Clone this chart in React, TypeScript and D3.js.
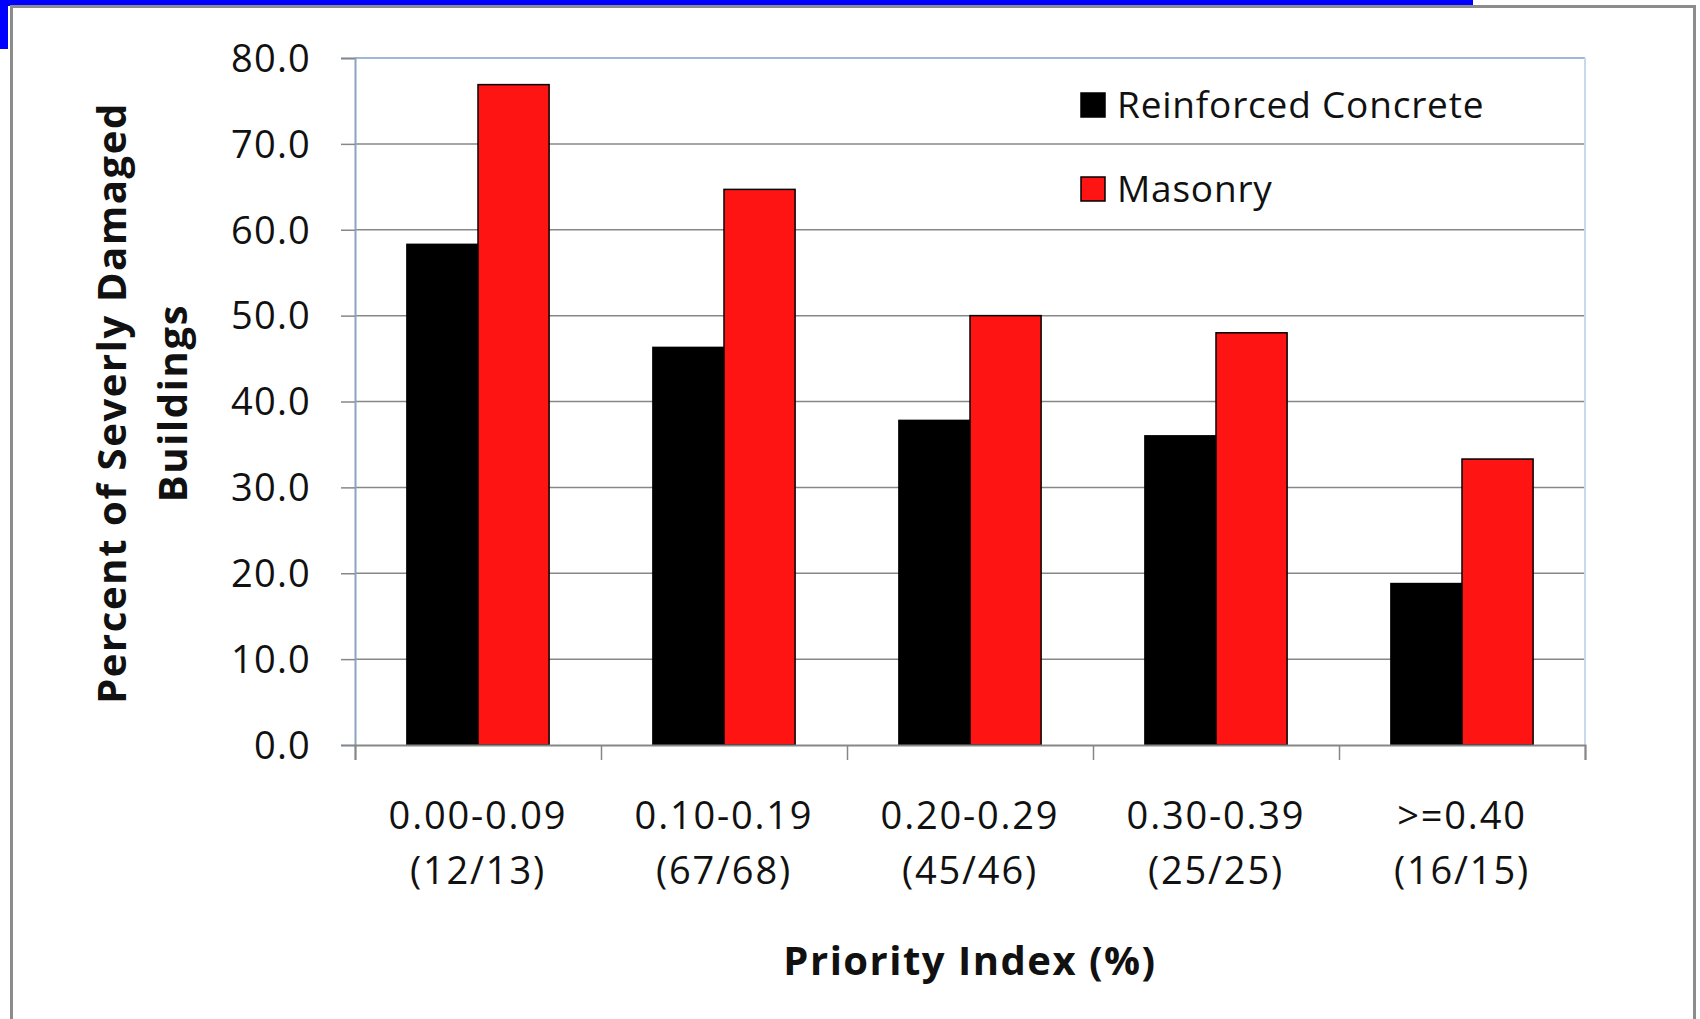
import * as d3 from 'd3';
import { useEffect, useRef } from 'react';

const categories = ['0.00-0.09', '0.10-0.19', '0.20-0.29', '0.30-0.39', '>=0.40'];
const counts = ['(12/13)', '(67/68)', '(45/46)', '(25/25)', '(16/15)'];
const seriesNames = ['Reinforced Concrete', 'Masonry'];
const concrete = [58.3, 46.3, 37.8, 36.0, 18.8];
const masonry = [76.9, 64.7, 50.0, 48.0, 33.3];
const yTicks = [0, 10, 20, 30, 40, 50, 60, 70, 80];
const colors = ['#000000', '#ff1414'];

const FONT = '"Open Sans", sans-serif';

export default function App() {
  const ref = useRef<SVGSVGElement>(null);

  useEffect(() => {
    if (!ref.current) return;
    const svg = d3.select(ref.current);
    svg.selectAll('*').remove();

    // slide frame
    svg.append('rect').attr('x', 0).attr('y', 0).attr('width', 1700).attr('height', 1019).attr('fill', '#fff');
    svg.append('rect').attr('x', 0).attr('y', 0).attr('width', 1473).attr('height', 6).attr('fill', '#0000ff');
    svg.append('rect').attr('x', 0).attr('y', 0).attr('width', 8).attr('height', 49).attr('fill', '#0000ff');
    svg
      .append('rect')
      .attr('x', 11.5)
      .attr('y', 6.5)
      .attr('width', 1683)
      .attr('height', 1030)
      .attr('fill', 'none')
      .attr('stroke', '#8c8c8c')
      .attr('stroke-width', 3);

    const margin = { top: 58, left: 355, right: 1585, bottom: 745 };

    const x0 = d3.scaleBand().domain(categories).range([margin.left, margin.right]).padding(0);
    const x1 = d3
      .scaleBand()
      .domain(seriesNames)
      .range([0, x0.bandwidth()])
      .paddingInner(0)
      .paddingOuter(0.73);
    const y = d3.scaleLinear().domain([0, 80]).range([margin.bottom, margin.top]);

    const g = svg.append('g');

    // gridlines
    g.selectAll('line.grid')
      .data(yTicks.slice(1, -1))
      .join('line')
      .attr('x1', margin.left)
      .attr('x2', margin.right)
      .attr('y1', (d) => y(d))
      .attr('y2', (d) => y(d))
      .attr('stroke', '#878787')
      .attr('stroke-width', 1.5);

    // plot border top/right
    g.append('line')
      .attr('x1', margin.left)
      .attr('x2', margin.right)
      .attr('y1', y(80))
      .attr('y2', y(80))
      .attr('stroke', '#9db8da')
      .attr('stroke-width', 2);
    g.append('line')
      .attr('x1', margin.right)
      .attr('x2', margin.right)
      .attr('y1', y(80))
      .attr('y2', y(0))
      .attr('stroke', '#c9d8ec')
      .attr('stroke-width', 2);

    // y axis
    const yAxis = d3
      .axisLeft(y)
      .tickValues(yTicks)
      .tickSize(14)
      .tickPadding(30)
      .tickFormat((d) => d3.format('.1f')(d as number));
    const ya = g.append('g').attr('transform', `translate(${margin.left},0)`).call(yAxis);
    ya.select('.domain').attr('stroke', '#8ea3c0').attr('stroke-width', 2);
    ya.selectAll('.tick line').attr('stroke', '#878787').attr('stroke-width', 1.5);
    ya.selectAll('.tick text')
      .attr('font-family', FONT)
      .attr('font-size', 38)
      .attr('letter-spacing', 1.2)
      .attr('fill', '#111')
      .attr('dy', '0.35em');

    // bars
    const rows = categories.map((c, i) => ({ cat: c, vals: [concrete[i], masonry[i]] }));
    const groups = g
      .selectAll('g.cat')
      .data(rows)
      .join('g')
      .attr('transform', (d) => `translate(${x0(d.cat)},0)`);
    groups
      .selectAll('rect')
      .data((d) => d.vals.map((v, j) => ({ name: seriesNames[j], v, j })))
      .join('rect')
      .attr('x', (d) => x1(d.name) ?? 0)
      .attr('width', x1.bandwidth())
      .attr('y', (d) => y(d.v))
      .attr('height', (d) => y(0) - y(d.v))
      .attr('fill', (d) => colors[d.j])
      .attr('stroke', '#000')
      .attr('stroke-width', 1.5);

    // x axis
    const xAxis = d3
      .axisBottom(d3.scaleLinear().domain([0, categories.length]).range([margin.left, margin.right]))
      .tickValues(d3.range(categories.length + 1))
      .tickSize(15)
      .tickFormat(() => '');
    const xa = g.append('g').attr('transform', `translate(0,${margin.bottom})`).call(xAxis);
    xa.select('.domain').attr('stroke', '#878787').attr('stroke-width', 2);
    xa.selectAll('.tick line').attr('stroke', '#878787').attr('stroke-width', 1.5);

    const labels = g
      .selectAll('text.xlab')
      .data(categories)
      .join('text')
      .attr('class', 'xlab')
      .attr('font-family', FONT)
      .attr('font-size', 38)
      .attr('letter-spacing', 1.8)
      .attr('fill', '#111')
      .attr('text-anchor', 'middle')
      .attr('x', (d) => (x0(d) ?? 0) + x0.bandwidth() / 2);
    labels
      .append('tspan')
      .attr('y', 829)
      .text((d) => d);
    labels
      .append('tspan')
      .attr('x', (d) => (x0(d) ?? 0) + x0.bandwidth() / 2)
      .attr('y', 884)
      .text((_, i) => counts[i]);

    // axis titles
    svg
      .append('text')
      .attr('x', (margin.left + margin.right) / 2)
      .attr('y', 975)
      .attr('text-anchor', 'middle')
      .attr('font-family', FONT)
      .attr('font-weight', 'bold')
      .attr('font-size', 40)
      .attr('letter-spacing', 1.5)
      .attr('fill', '#111')
      .text('Priority Index (%)');

    const yt = svg
      .append('text')
      .attr('transform', 'translate(0,403) rotate(-90)')
      .attr('text-anchor', 'middle')
      .attr('font-family', FONT)
      .attr('font-weight', 'bold')
      .attr('font-size', 40)
      .attr('letter-spacing', 1.6)
      .attr('fill', '#111');
    yt.append('tspan').attr('x', 0).attr('y', 126).text('Percent of Severly Damaged');
    yt.append('tspan').attr('x', 0).attr('y', 187).text('Buildings');

    // legend
    const legend = svg.append('g').attr('transform', 'translate(1081,0)');
    const items = legend
      .selectAll('g')
      .data(seriesNames)
      .join('g')
      .attr('transform', (_, i) => `translate(0,${93 + i * 84})`);
    items
      .append('rect')
      .attr('width', 24)
      .attr('height', 24)
      .attr('fill', (_, i) => colors[i])
      .attr('stroke', '#000')
      .attr('stroke-width', 1.5);
    items
      .append('text')
      .attr('x', 36)
      .attr('y', 12)
      .attr('dy', '0.35em')
      .attr('font-family', FONT)
      .attr('font-size', 37)
      .attr('letter-spacing', 0.8)
      .attr('fill', '#111')
      .text((d) => d);
  }, []);

  return (
    <svg
      ref={ref}
      width={1700}
      height={1019}
      style={{ position: 'absolute', left: 0, top: 0, display: 'block' }}
    />
  );
}
